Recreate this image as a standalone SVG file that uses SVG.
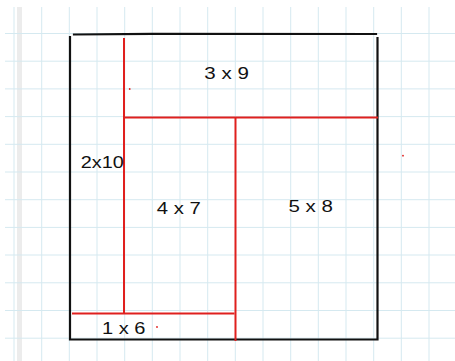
<svg xmlns="http://www.w3.org/2000/svg" width="455" height="361" viewBox="0 0 455 361">
<style>
.g{stroke:#d5e9f0;stroke-width:1;fill:none}
.k{stroke:#111;stroke-width:2.2;fill:none;stroke-linecap:square}
.r{stroke:#e0201e;stroke-width:2;fill:none}
.t{font-family:"Liberation Sans",Arial,sans-serif;font-size:17px;fill:#111}
.d{fill:#e0201e}
</style>
<rect width="455" height="361" fill="#fff"/>
<g id="grid">
<rect x="17" y="7" width="5" height="354" fill="#ececec"/>
<path class="g" d="M14 7V361M41.7 7V361M69.3 7V361M97 7V361M124.7 7V361M152.3 7V361M180 7V361M207.7 7V361M235.3 7V361M263 7V361M290.7 7V361M318.3 7V361M346 7V361M373.7 7V361M401.3 7V361M429 7V361"/>
<path class="g" d="M5 33.5H455M5 61.2H455M5 88.9H455M5 116.6H455M5 144.3H455M5 172H455M5 199.7H455M5 227.4H455M5 255H455M5 282.8H455M5 310.5H455M5 338.2H455"/>
</g>
<g id="frame">
<path class="k" d="M74 34.5L152 33.8L376 34"/>
<path class="k" d="M70 37V339.5H377.5V38"/>
</g>
<g id="connectors">
<path class="r" d="M124 38V313.5"/>
<path class="r" d="M124 117.5H378"/>
<path class="r" d="M235.5 117V341"/>
<path class="r" d="M72 313.5H234.5"/>
</g>
<g id="dots">
<circle class="d" cx="129.7" cy="89" r="0.9"/>
<circle class="d" cx="403" cy="155.7" r="0.9"/>
<circle class="d" cx="157" cy="327" r="0.9"/>
</g>
<g id="r3x9"><text class="t" x="204.3" y="79.3" textLength="44.5" lengthAdjust="spacingAndGlyphs">3 x 9</text></g>
<g id="r2x10"><text class="t" x="80.8" y="168" textLength="43" lengthAdjust="spacingAndGlyphs">2x10</text></g>
<g id="r4x7"><text class="t" x="156.8" y="214" textLength="44" lengthAdjust="spacingAndGlyphs">4 x 7</text></g>
<g id="r5x8"><text class="t" x="288.4" y="211.5" textLength="44.5" lengthAdjust="spacingAndGlyphs">5 x 8</text></g>
<g id="r1x6"><text class="t" x="102" y="334" textLength="43.5" lengthAdjust="spacingAndGlyphs">1 x 6</text></g>
</svg>
